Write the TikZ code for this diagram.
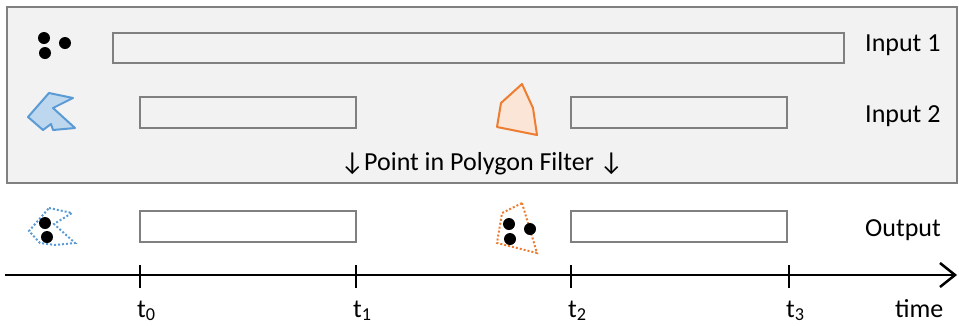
\documentclass[tikz,border=0pt]{standalone}
\usepackage{fontspec}
\setmainfont{Carlito}
\usetikzlibrary{arrows.meta}
\definecolor{boxgray}{HTML}{F2F2F2}
\definecolor{linegray}{HTML}{808080}
\definecolor{polyblue}{HTML}{5B9BD5}
\definecolor{polybluefill}{HTML}{BDD7EE}
\definecolor{polyorange}{HTML}{ED7D31}
\definecolor{polyorangefill}{HTML}{FBE5D6}

\begin{document}
\begin{tikzpicture}[x=1pt,y=-1pt,
    every node/.style={inner sep=0pt,font=\fontsize{26}{31}\selectfont},
    bar/.style={draw=linegray,line width=2.5pt},
    dot/.style={fill=black},
    cutline/.style={line width=2pt,dash pattern=on 2pt off 2pt}]

    \useasboundingbox (0,0) rectangle (959,325);

    % filter box around both inputs
    \draw[linegray,fill=boxgray,line width=2.5pt] (7,7) rectangle (957,183);

    % Input 1: points, valid all the time
    \fill[dot] (44,38) circle[radius=6pt] (45,53) circle[radius=6pt] (65,43) circle[radius=6pt];
    \draw[bar] (113,33) rectangle (844,63);
    \node[anchor=base west] (inone) at (865,51) {Input 1};

    % Input 2: two polygons, valid in [t0,t1] and [t2,t3]
    \draw[polyblue,fill=polybluefill,line width=2pt,line join=round]
        (49,93) -- (73,98) -- (53,108) -- (75,128) -- (53,130) -- (51,124) -- (43,130) -- (28,117) -- cycle;
    \draw[polyorange,fill=polyorangefill,line width=2pt,line join=round]
        (522,84) -- (533,108) -- (537,135) -- (497,127) -- (501,103) -- cycle;
    \draw[bar] (140,97) rectangle (356,128);
    \draw[bar] (571,97) rectangle (787,128);
    \node[anchor=base west] (intwo) at (865,122) {Input 2};

    \node[anchor=base] (filter) at (482,170) {↓Point in Polygon Filter ↓};

    % Output: points inside the polygons
    \draw[polyblue,cutline]
        (49,208) -- (72,213) -- (54,224) -- (75,243) -- (55,245) -- (40,243) -- (29,231) -- cycle;
    \fill[dot] (45,223) circle[radius=6pt] (47,237) circle[radius=6pt];
    \draw[polyorange,cutline]
        (522,203) -- (537,253) -- (497,243) -- (502,213) -- cycle;
    \fill[dot] (509,224) circle[radius=6pt] (510,239) circle[radius=6pt] (530,229) circle[radius=6pt];
    \draw[bar] (140,211) rectangle (356,242);
    \draw[bar] (571,211) rectangle (787,242);
    \node[anchor=base west] (out) at (865,236) {Output};

    % time axis
    \coordinate (tstart) at (5,275);
    \coordinate (tend) at (957,275);
    \draw[line width=2.5pt,-{Straight Barb[length=15pt,width=24pt]}] (tstart) -- (tend);
    \foreach \i/\x in {0/140,1/356,2/571,3/789}{
        \draw[line width=2.5pt] (\x,265) -- (\x,288);
        \node[anchor=base west] (t\i) at (\x-3,317) {t\textsubscript{\i}};
    }
    \node[anchor=base west] (time) at (895,317) {time};

\end{tikzpicture}
\end{document}
